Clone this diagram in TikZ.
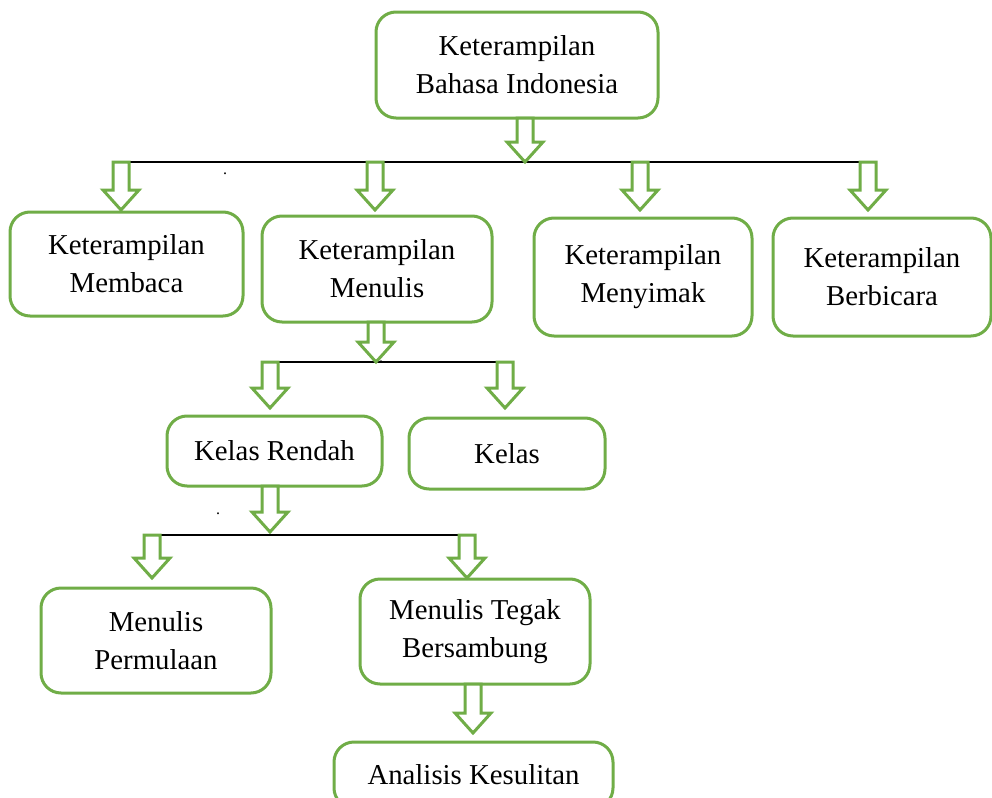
\documentclass[tikz,border=0pt]{standalone}
\usepackage{fontspec}
\setmainfont{Liberation Serif}
\usetikzlibrary{positioning, calc}
\definecolor{boxgreen}{RGB}{112,173,71}
\definecolor{inkblack}{RGB}{0,0,0}
\newcommand{\hollowarrow}[2]{
  \draw[blockarrow] let \p1=(#1), \p2=(#2) in
    (\x2-4pt,\y1) -- (\x2-4pt,\y2+10pt) -- (\x2-9pt,\y2+10pt) -- (\x2,\y2)
    -- (\x2+9pt,\y2+10pt) -- (\x2+4pt,\y2+10pt) -- (\x2+4pt,\y1) -- cycle;
}

\begin{document}
\begin{tikzpicture}[
    every node/.style={text=inkblack},
    box/.style={draw=boxgreen, line width=1.5pt, rounded corners=10pt, fill=white, align=center,
                inner sep=0pt, outer sep=0pt, font=\fontsize{14.4}{19}\selectfont},
    blockarrow/.style={draw=boxgreen, line width=1.5pt, fill=white, line join=miter},
    bus/.style={draw=inkblack, line width=0.75pt},
    straydot/.style={inner sep=0pt, anchor=base, font=\footnotesize},
]
\useasboundingbox (0,0) rectangle (496pt,-399pt);

% ------------------------------------------------------------------ top ---
\node[box, minimum width=141pt, minimum height=53pt] (bahasa) at (258.5pt,-32.5pt)
  {Keterampilan\\Bahasa Indonesia};
\coordinate (bus1) at ($(bahasa.south)+(0,-22pt)$);
\draw[bus] ($(bus1)+(-201pt,0)$) -- ($(bus1)+(175.5pt,0)$);
\hollowarrow{bahasa.south}{$(bahasa.south)+(4pt,-22pt)$}
\node[straydot] (dot1) at (112.5pt,-87pt) {.};

% ---------------------------------------------------------- four skills ---
\node[box, minimum width=116.5pt, minimum height=52pt] (membaca) at (63.25pt,-132pt)
  {Keterampilan\\Membaca};
\node[box, minimum width=115pt, minimum height=53pt, right=9.5pt of membaca, yshift=-2.5pt] (menulis)
  {Keterampilan\\Menulis};
\node[box, minimum width=109pt, minimum height=59pt, right=21pt of menulis, yshift=-4pt] (menyimak)
  {Keterampilan\\Menyimak};
\node[box, minimum width=109pt, minimum height=59pt, right=10.5pt of menyimak] (berbicara)
  {Keterampilan\\Berbicara};
\hollowarrow{bus1}{$(membaca.north)+(-2.75pt,1pt)$}
\hollowarrow{bus1}{$(menulis.north)+(-1pt,3pt)$}
\hollowarrow{bus1}{$(menyimak.north)+(-1.5pt,4pt)$}
\hollowarrow{bus1}{$(berbicara.north)+(-7pt,4pt)$}

% --------------------------------------------------------------- kelas ---
\coordinate (bus2) at ($(menulis.south)+(0,-20pt)$);
\draw[bus] ($(bus2)+(-57.5pt,0)$) -- ($(bus2)+(66.5pt,0)$);
\hollowarrow{menulis.south}{$(menulis.south)+(-0.5pt,-20pt)$}
\node[straydot] (dot2) at (190.5pt,-181pt) {.};

\node[box, minimum width=107.5pt, minimum height=35pt] (rendah) at (137.25pt,-225.5pt) {Kelas Rendah};
\node[box, minimum width=98pt, minimum height=35.5pt, right=13.5pt of rendah, yshift=-1.25pt] (kelas) {Kelas};
\hollowarrow{bus2}{$(rendah.north)+(-2.25pt,4pt)$}
\hollowarrow{bus2}{$(kelas.north)+(-1pt,5pt)$}

% ------------------------------------------------------------- menulis ---
\coordinate (bus3) at ($(rendah.south)+(0,-24.5pt)$);
\draw[bus] ($(bus3)+(-58.75pt,0)$) -- ($(bus3)+(100.75pt,0)$);
\hollowarrow{rendah.south}{$(rendah.south)+(-2.25pt,-23pt)$}
\node[straydot] (dot3) at (109pt,-257pt) {.};

\node[box, minimum width=115pt, minimum height=52.5pt] (permulaan) at (78pt,-320.25pt)
  {Menulis\\Permulaan};
\node[box, minimum width=115pt, minimum height=52.5pt, right=44.5pt of permulaan, yshift=4.5pt] (tegak)
  {Menulis Tegak\\Bersambung};
\hollowarrow{bus3}{$(permulaan.north)+(-2pt,5pt)$}
\hollowarrow{bus3}{$(tegak.north)+(-4pt,0.5pt)$}

% ------------------------------------------------------------ analisis ---
\node[box, minimum width=139.5pt, minimum height=33pt, below=29pt of tegak, xshift=-0.75pt] (analisis)
  {Analisis Kesulitan};
\hollowarrow{tegak.south}{$(tegak.south)+(-1pt,-24.5pt)$}

\end{tikzpicture}
\end{document}
